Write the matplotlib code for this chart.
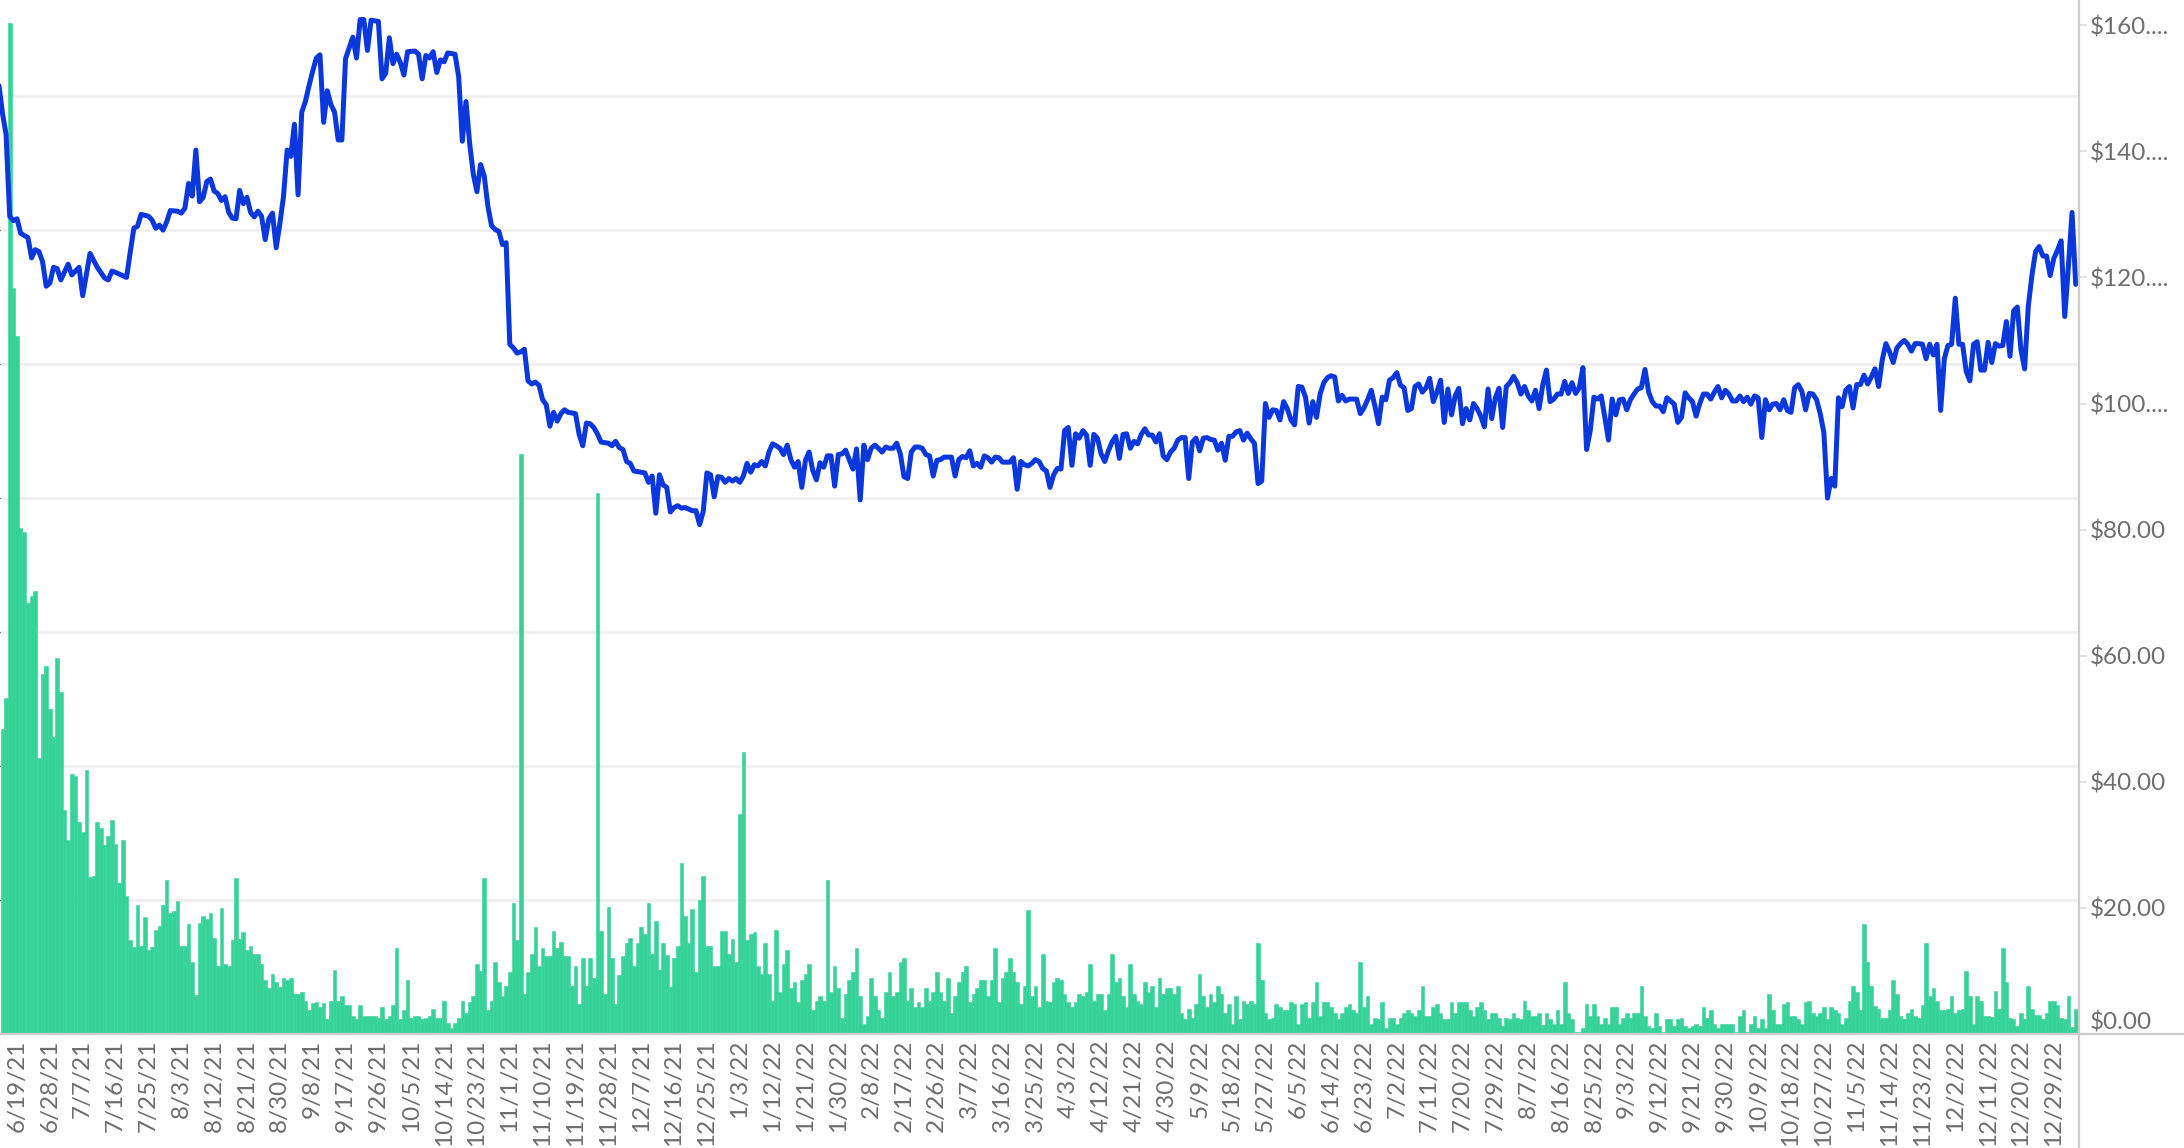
import matplotlib
matplotlib.use("Agg")
import matplotlib.pyplot as plt
import matplotlib.dates as mdates
from matplotlib.lines import Line2D
import numpy as np
import pandas as pd

plt.rcParams['font.family'] = ['Lato', 'DejaVu Sans']

# daily volume, one value per day starting 6/15/21 (hidden left axis)
volume_start = '2021-06-15'
volume = [
    22.8, 25.1, 75.5, 55.7, 52.1, 37.8, 37.5, 32.2, 32.7, 33.1,
    20.6, 26.9, 27.5, 24.3, 22.2, 28.1, 25.5, 16.7, 14.5, 19.4,
    19.3, 15.8, 15.1, 19.7, 11.7, 11.8, 15.8, 15.4, 14.1, 14.8,
    16.0, 14.2, 11.3, 14.5, 10.3, 7.0, 6.5, 9.6, 6.6, 8.7,
    6.3, 6.5, 7.8, 8.1, 9.6, 11.5, 9.0, 9.2, 9.9, 6.6,
    6.6, 8.2, 5.4, 2.9, 8.3, 8.8, 8.6, 9.0, 7.2, 5.1,
    9.4, 5.2, 5.1, 7.0, 11.65, 7.1, 7.6, 6.3, 6.6, 6.0,
    6.0, 5.2, 4.0, 3.4, 4.5, 3.9, 3.5, 4.2, 4.0, 4.2,
    3.0, 3.0, 3.1, 2.5, 1.8, 2.3, 2.4, 2.0, 2.3, 1.1,
    2.5, 4.8, 2.5, 2.8, 2.2, 2.2, 1.35, 1.1, 2.2, 1.35,
    1.35, 1.35, 1.35, 1.2, 2.0, 1.1, 1.35, 2.2, 6.4, 1.1,
    1.8, 4.0, 1.2, 1.35, 1.35, 1.1, 1.2, 1.35, 1.9, 1.2,
    1.2, 2.5, 0.8, 0.45, 0.8, 1.2, 2.5, 1.6, 2.4, 2.8,
    5.2, 4.7, 11.65, 1.8, 2.5, 5.35, 3.9, 2.8, 3.6, 4.6,
    9.8, 7.0, 43.3, 3.0, 4.6, 6.0, 8.0, 5.1, 6.4, 5.8,
    5.8, 7.7, 6.4, 6.9, 5.8, 5.8, 3.6, 5.1, 2.25, 5.65,
    3.6, 5.65, 4.2, 40.4, 7.7, 3.0, 9.5, 5.65, 2.25, 4.4,
    5.8, 6.8, 7.2, 5.1, 6.8, 8.0, 7.5, 9.8, 6.0, 8.4,
    4.8, 6.8, 5.9, 3.5, 5.65, 6.6, 12.8, 8.8, 6.8, 9.3,
    4.6, 10.0, 11.8, 6.6, 6.6, 5.1, 5.1, 7.7, 7.7, 6.0,
    7.1, 5.35, 16.4, 21.05, 7.0, 7.5, 7.6, 5.05, 4.5, 6.8,
    4.5, 2.5, 7.75, 3.1, 5.2, 6.3, 3.44, 3.9, 2.4, 4.04,
    4.5, 5.2, 1.8, 2.5, 2.8, 2.5, 11.5, 3.1, 5.05, 3.44,
    1.2, 3.0, 4.04, 4.6, 6.4, 2.8, 0.78, 1.35, 4.2, 2.8,
    1.8, 1.2, 3.1, 4.6, 2.8, 3.1, 5.35, 5.65, 2.5, 3.44,
    2.0, 2.4, 2.0, 3.44, 2.5, 3.1, 4.6, 3.1, 2.5, 4.2,
    1.6, 2.8, 3.9, 4.6, 5.05, 2.4, 3.0, 3.44, 4.04, 4.04,
    2.8, 4.04, 6.4, 2.4, 4.2, 4.6, 5.65, 4.6, 3.9, 2.25,
    3.6, 9.25, 2.8, 3.6, 2.0, 6.0, 2.5, 2.4, 3.9, 4.2,
    4.04, 3.0, 2.4, 2.0, 2.4, 3.0, 2.8, 3.1, 5.2, 2.5,
    3.0, 3.0, 1.8, 3.0, 6.0, 3.9, 4.2, 2.8, 2.0, 5.2,
    3.0, 2.5, 2.25, 3.9, 3.1, 3.6, 2.0, 4.2, 3.0, 3.44,
    3.44, 3.0, 3.6, 1.6, 1.1, 1.9, 1.2, 2.25, 4.5, 2.8,
    2.0, 3.0, 2.4, 3.6, 3.0, 1.6, 2.25, 0.78, 2.8, 1.1,
    2.5, 2.25, 2.5, 2.25, 6.8, 4.04, 1.6, 1.1, 1.2, 2.25,
    2.0, 1.8, 1.8, 2.4, 2.25, 0.78, 2.25, 2.4, 1.2, 2.4,
    3.9, 1.35, 2.4, 2.4, 2.0, 1.6, 1.1, 1.6, 2.0, 2.25,
    1.8, 1.6, 5.35, 2.0, 2.8, 0.78, 1.2, 1.1, 2.4, 0.44,
    1.2, 1.2, 0.78, 1.2, 1.6, 1.8, 1.6, 1.35, 1.8, 3.6,
    1.35, 1.35, 2.0, 2.25, 1.6, 1.1, 1.1, 2.4, 1.6, 2.4,
    2.4, 2.4, 1.8, 1.35, 2.0, 2.4, 1.8, 1.1, 1.6, 1.6,
    1.2, 0.62, 1.2, 1.1, 1.6, 1.2, 1.1, 2.5, 1.8, 1.35,
    1.35, 1.6, 0.7, 1.6, 1.1, 0.78, 1.8, 0.78, 3.9, 1.6,
    1.1, 0.16, 0.16, 0.44, 2.25, 1.35, 2.25, 1.35, 0.78, 1.2,
    0.78, 2.0, 2.0, 0.78, 1.2, 1.6, 1.2, 1.6, 1.6, 3.6,
    1.35, 0.62, 0.44, 1.6, 0.62, 0.16, 1.1, 1.1, 0.62, 1.1,
    1.2, 0.62, 0.44, 0.62, 0.78, 0.62, 2.0, 1.2, 1.8, 0.78,
    0.44, 0.78, 0.78, 0.78, 0.78, 0.16, 1.35, 1.8, 0.16, 0.78,
    1.35, 0.44, 1.1, 0.44, 3.0, 1.8, 0.78, 0.78, 2.25, 2.4,
    1.35, 1.35, 1.1, 0.78, 2.4, 2.5, 1.6, 1.35, 1.6, 2.0,
    1.1, 2.0, 1.8, 1.6, 0.78, 1.2, 2.5, 3.6, 3.1, 1.8,
    8.2, 5.4, 3.55, 2.1, 1.9, 1.2, 1.2, 1.8, 4.0, 3.0,
    1.35, 1.1, 1.6, 1.9, 1.35, 1.2, 2.2, 6.8, 2.8, 3.44,
    2.5, 1.8, 1.8, 1.9, 2.8, 1.6, 1.8, 1.9, 4.7, 2.8,
    0.78, 2.8, 2.5, 1.35, 1.35, 1.3, 3.2, 1.9, 6.4, 3.9,
    1.2, 1.1, 0.6, 1.6, 1.1, 3.6, 1.9, 1.4, 1.4, 1.1,
    1.6, 2.5, 2.5, 2.2, 1.2, 1.1, 2.8, 0.5, 1.9,
]

# daily price starting 6/14/21, None = no reading that day
price_start = '2021-06-14'
price = [
    150.7, 146.1, 142.7, 129.7, 129.0, 129.3, 127.0, None, 126.3, 123.1,
    124.4, 124.1, 122.5, 118.6, 119.1, 121.6, 121.4, 119.6, None, 122.1,
    120.4, None, 121.6, 117.1, None, 123.8, None, 121.6, None, 119.9,
    119.6, 121.0, 120.8, None, None, 120.0, None, 127.8, 128.1, 130.0,
    None, 129.7, 129.1, 127.8, 128.3, 127.5, 128.8, 130.6, None, 130.5,
    130.2, 131.0, 134.9, 132.9, 140.2, 132.0, 132.7, 135.2, 135.6, 133.7,
    133.3, 132.2, 132.8, 130.3, 129.4, 129.3, 133.8, 131.7, 132.7, 130.3,
    129.6, 130.5, 129.7, 126.0, 129.3, 130.2, 124.7, 128.5, 132.8, 140.2,
    139.2, 144.3, 133.1, 146.2, 147.9, 150.4, 152.7, 154.8, 155.3, 144.6,
    149.6, 147.4, 146.2, 141.8, 141.8, 154.7, 156.4, 158.1, 154.8, 160.9,
    160.9, 156.0, 160.8, None, 160.6, 151.5, 152.4, 158.0, 153.9, 155.4,
    154.1, 152.1, 155.8, None, 155.9, 155.4, 151.5, 155.2, 154.8, 155.8,
    152.5, 154.5, 154.2, 155.6, None, 155.4, 151.8, 141.6, 147.9, 141.3,
    136.4, 133.6, 137.9, 136.1, 131.3, 128.2, 127.6, 127.3, 125.2, 125.5,
    109.4, 108.8, 108.0, 108.2, 108.6, 103.6, 103.1, 103.4, 102.9, 100.6,
    99.8, 96.4, 98.6, 97.2, 98.4, 99.0, 98.6, None, 98.4, 95.1,
    93.3, 96.9, 96.8, 96.2, 95.2, 93.9, None, 93.7, 93.3, 94.0,
    93.0, 92.7, 90.8, 90.5, 89.3, None, 89.1, 89.0, 87.5, 88.5,
    82.6, 88.7, 87.1, 86.7, 82.8, 83.5, 83.8, 83.4, 83.5, None,
    83.0, 83.0, 80.8, 82.9, 89.0, 88.7, 85.2, 88.4, 88.3, 87.5,
    88.1, 87.7, 88.1, 87.5, 88.5, 90.5, 89.1, 90.3, 90.1, 90.8,
    90.1, 92.3, 93.6, 93.3, 92.9, 91.9, 93.4, 91.1, 89.9, 90.8,
    86.7, 91.0, 92.3, 89.4, 87.9, 90.6, 89.9, 91.7, 91.7, 86.9,
    91.9, 92.0, 92.6, 91.1, 89.6, 92.8, 84.7, 93.4, 91.1, 92.9,
    93.4, 92.9, 92.3, 93.1, 92.9, 92.9, 93.7, 92.0, 88.4, 88.1,
    92.3, 93.1, 93.1, 92.9, 91.9, 91.7, 88.5, 91.0, 91.1, 91.5,
    None, 91.5, 88.5, 91.1, 91.6, 91.4, 92.5, 90.1, 90.5, 89.9,
    91.7, 91.4, 90.7, 91.5, 91.4, 90.7, 90.7, 90.7, 91.4, 86.4,
    90.8, 90.3, 90.1, 90.5, 91.1, 90.8, 89.7, 89.3, 86.7, 88.7,
    89.7, 89.6, 95.7, 96.2, 90.2, 95.2, 94.5, 95.7, 95.0, 90.2,
    95.1, 94.5, 92.0, 90.8, 92.5, 93.9, 94.8, 91.3, 95.1, 95.2,
    92.9, 94.0, 93.6, 95.1, 96.0, 95.0, 95.0, 93.9, 95.2, 91.7,
    91.1, 92.3, 92.9, 94.2, 94.6, 94.6, 88.1, 93.9, 94.5, 92.5,
    94.5, 94.6, 94.3, 94.2, 92.6, 93.7, 91.0, 94.8, 94.8, 95.5,
    95.7, 94.2, 95.3, 94.4, 93.7, 87.3, 87.7, 100.0, 97.8, 99.0,
    98.9, 97.4, 100.3, 99.2, 97.4, 96.6, 102.7, 102.6, 101.0, 96.9,
    100.3, 97.8, 101.5, 103.3, 104.1, 104.4, 104.2, 100.4, 101.3, 100.4,
    100.7, 100.7, 100.7, 98.4, 99.3, 100.6, 102.1, 99.6, 96.8, 101.0,
    100.6, 103.7, 104.1, 104.9, 102.9, 102.5, 98.9, 99.2, 102.7, 103.1,
    101.8, 102.5, 104.0, 100.3, 101.8, 103.7, 97.0, 102.3, 98.2, 101.2,
    102.4, 96.8, 99.2, 97.4, 100.0, 99.2, 98.0, 96.3, 102.3, 97.6,
    100.9, 102.4, 96.2, 102.7, 103.3, 104.3, 103.3, 101.5, 102.7, 101.2,
    100.4, 102.1, 99.2, 103.0, 105.3, 100.3, 100.7, 101.5, 101.5, 103.5,
    101.6, 103.3, 101.6, 102.5, 105.7, 92.7, 95.7, 101.0, 100.7, 101.2,
    97.8, 94.2, 100.7, 98.2, 100.6, 100.7, 99.0, 100.6, 101.5, 102.3,
    102.5, 105.4, 101.8, 100.3, 99.6, 99.6, 98.7, 100.9, 100.4, 99.9,
    97.0, 97.8, 101.7, 100.9, 100.3, 98.0, 100.0, 101.5, 101.5, 100.7,
    101.8, 102.7, 100.9, 102.1, 101.5, 100.4, 100.4, 101.2, 100.3, 101.0,
    99.9, 101.2, 100.9, 94.6, 100.6, 99.0, 99.9, 100.0, 99.0, 100.6,
    98.9, 98.6, 102.5, 103.0, 101.9, 99.0, 101.6, 101.5, 100.6, 98.4,
    95.4, 85.0, 88.1, 86.9, 100.9, 99.5, 102.1, 102.7, 99.3, 103.0,
    103.0, 104.5, 103.1, 104.2, 105.5, 102.7, 106.9, 109.5, 108.2, 106.5,
    108.8, 109.5, 110.0, 109.4, 108.3, 109.5, 109.5, 109.4, 107.1, 109.4,
    107.7, 109.4, 98.9, 107.1, 109.2, 109.4, 116.7, 109.4, 109.4, 105.1,
    103.6, 109.4, 109.8, 105.3, 105.3, 109.7, 106.5, 109.5, 109.1, 109.2,
    113.0, 107.5, 114.7, 115.3, 108.5, 105.5, 115.4, 120.3, 124.1, 124.9,
    123.4, 123.4, 120.3, 123.0, 124.3, 125.8, 113.8, 121.8, 130.3, 118.9,
]

tick_first, tick_last, tick_every = '2021-06-19', '2022-12-29', 9
price_ticks = [0, 20, 40, 60, 80, 100, 120, 140, 160]
price_labels = ['$0.00', '$20.00', '$40.00', '$60.00', '$80.00',
                '$100....', '$120....', '$140....', '$160....']

vol_dates = pd.date_range(volume_start, periods=len(volume), freq='D')
price_dates = pd.date_range(price_start, periods=len(price), freq='D')
p = np.array([np.nan if v is None else v for v in price], dtype=float)
ok = ~np.isnan(p)

W, H = 2184, 1148
fig = plt.figure(figsize=(W / 100, H / 100), dpi=100)
fig.patch.set_facecolor('white')
ax = fig.add_axes([0, 114 / H, 2079 / W, 1034 / H])

ax.bar(vol_dates, volume, width=1.0, color='#36d399', edgecolor='#36d399',
       linewidth=0.4, zorder=2)
ax.set_ylim(0, 77.2)
ax.set_yticks(np.arange(10, 80, 10))
ax.yaxis.grid(True, color='#f0f0f0', linewidth=2)
ax.set_axisbelow(True)
ax.tick_params(axis='y', left=False, labelleft=False)
for s in ax.spines.values():
    s.set_visible(False)

ax2 = ax.twinx()
ax2.plot(price_dates[ok], p[ok], color='#0b38dc', linewidth=3.6,
         solid_joinstyle='round', solid_capstyle='round', zorder=3)
ax2.set_ylim(0, 164)
ax2.set_yticks(price_ticks)
ax2.set_yticklabels(price_labels)
ax2.tick_params(axis='y', length=6, width=1.5, color='#e2e2e2', pad=2,
                labelsize=17.5, labelcolor='#6e6e6e')
ax2.get_yticklabels()[0].set_verticalalignment('bottom')
for s in ax2.spines.values():
    s.set_visible(False)

x0 = mdates.date2num(pd.Timestamp(volume_start)) - 0.66
ax.set_xlim(x0, x0 + 569.56)
ticks = pd.date_range(tick_first, tick_last, freq=f'{tick_every}D')
ax.set_xticks(ticks)
ax.set_xticklabels([f'{d.month}/{d.day}/{d.year % 100}' for d in ticks],
                   rotation=90, fontsize=17.5, color='#6e6e6e')
ax.tick_params(axis='x', length=0, pad=4)

# pane borders (run past the plot like the original)
fig.add_artist(Line2D([0, 1], [114 / H, 114 / H], color='#cccccc', linewidth=1.6,
                      transform=fig.transFigure))
fig.add_artist(Line2D([2079 / W, 2079 / W], [0, 1], color='#cccccc', linewidth=1.6,
                      transform=fig.transFigure))

fig.savefig('out.png', dpi=100, facecolor='white')
